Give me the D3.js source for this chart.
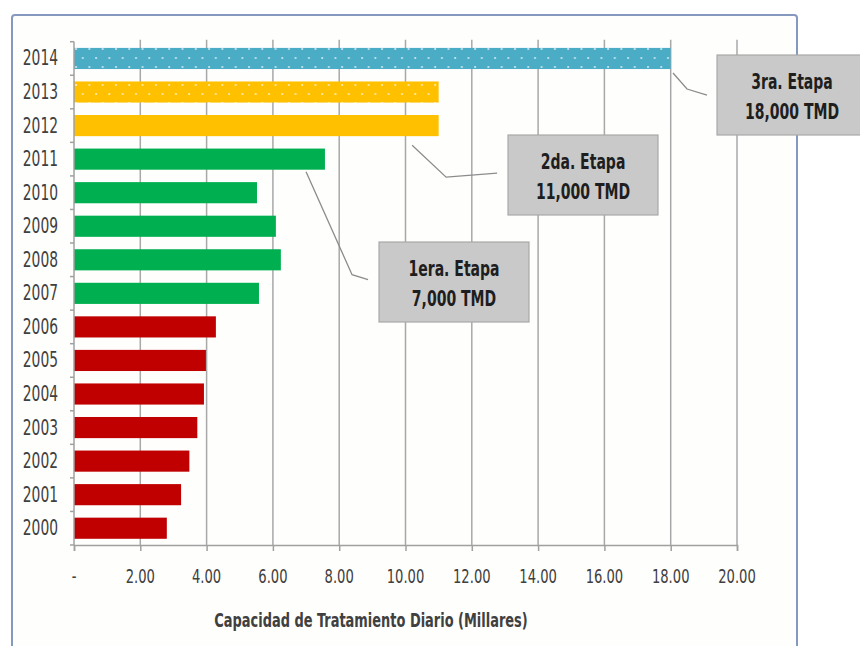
<!DOCTYPE html>
<html>
<head>
<meta charset="utf-8">
<script src="https://cdn.jsdelivr.net/npm/d3@7"></script>
<style>
  html, body { margin: 0; padding: 0; background: #ffffff; }
  svg { display: block; }
  text { font-family: "DejaVu Sans Condensed", "Liberation Sans Narrow", "Liberation Sans", sans-serif; }
</style>
</head>
<body>
<svg id="chart" width="860" height="646"></svg>
<script>
// Daily treatment capacity by year (thousands of tonnes per day)
const years = [2014, 2013, 2012, 2011, 2010, 2009, 2008, 2007, 2006, 2005, 2004, 2003, 2002, 2001, 2000];
const capacity = [18.0, 11.0, 11.0, 7.57, 5.52, 6.09, 6.24, 5.58, 4.28, 3.98, 3.92, 3.72, 3.48, 3.23, 2.80];
// Stage each year belongs to: 0 = before expansions, 1..3 = expansion stages
const stage = [3, 2, 2, 1, 1, 1, 1, 1, 0, 0, 0, 0, 0, 0, 0];
// Years drawn with the dotted (projected) fill
const projected = [2014, 2013];
const stageColors = ["#c00000", "#00b050", "#ffc000", "#4bacc6"];

const xTicks = [0, 2, 4, 6, 8, 10, 12, 14, 16, 18, 20];
const xTickLabels = ["-", "2.00", "4.00", "6.00", "8.00", "10.00", "12.00", "14.00", "16.00", "18.00", "20.00"];
const xTitle = "Capacidad de Tratamiento Diario (Millares)";

// Stage callouts: anchor year and capacity, two text lines
const calloutYears = [2011, 2012, 2014];
const calloutValues = [7.0, 10.2, 18.07];
const calloutLine1 = ["1era. Etapa", "2da. Etapa", "3ra. Etapa"];
const calloutLine2 = ["7,000 TMD", "11,000 TMD", "18,000 TMD"];

const svg = d3.select("#chart");
const STRETCH = 1.32; // tall, narrow lettering

// text with a vertical stretch about its baseline
function label(g, tx, ty, str, size, opts = {}) {
  return g.append("text")
    .attr("transform", `translate(${tx},${ty}) scale(1,${opts.k || STRETCH})`)
    .attr("text-anchor", opts.anchor || "middle")
    .attr("font-size", size)
    .attr("font-weight", opts.weight || "normal")
    .attr("fill", opts.fill || "#404040")
    .text(str);
}

// outer frame
svg.append("rect")
  .attr("x", 12).attr("y", 15).attr("width", 785).attr("height", 700)
  .attr("rx", 3)
  .attr("fill", "#fefefd").attr("stroke", "#8598bd").attr("stroke-width", 2);

const x = d3.scaleLinear().domain([0, 20]).range([74, 737]);
const y = d3.scaleBand().domain(years).range([41.7, 545]).paddingInner(0.37).paddingOuter(0.185);
const plotTop = 41.7, plotBottom = 545;

// dotted fill patterns for projected bars
const defs = svg.append("defs");
stageColors.forEach((c, i) => {
  const p = defs.append("pattern")
    .attr("id", "dots" + i)
    .attr("patternUnits", "userSpaceOnUse")
    .attr("width", 13.3).attr("height", 18);
  p.append("rect").attr("width", 13.3).attr("height", 18).attr("fill", c);
  p.append("circle").attr("cx", 3).attr("cy", 4).attr("r", 1.1).attr("fill", "#ffffff").attr("opacity", 0.7);
  p.append("circle").attr("cx", 9.6).attr("cy", 13).attr("r", 1.1).attr("fill", "#ffffff").attr("opacity", 0.7);
});

// vertical gridlines
svg.append("g").selectAll("line")
  .data(xTicks.filter(d => d > 0))
  .join("line")
  .attr("x1", d => x(d)).attr("x2", d => x(d))
  .attr("y1", plotTop - 2).attr("y2", plotBottom)
  .attr("stroke", "#a8a8a8").attr("stroke-width", 1.5);

// bars
svg.append("g").selectAll("rect")
  .data(years.map((yr, i) => ({ yr, v: capacity[i], s: stage[i] })))
  .join("rect")
  .attr("x", x(0))
  .attr("y", d => y(d.yr))
  .attr("width", d => x(d.v) - x(0))
  .attr("height", y.bandwidth())
  .attr("fill", d => projected.includes(d.yr) ? `url(#dots${d.s})` : stageColors[d.s]);

// x axis line and ticks
const xAxis = d3.axisBottom(x).tickValues(xTicks).tickFormat("").tickSize(6);
const gx = svg.append("g").attr("transform", `translate(0,${plotBottom})`).call(xAxis);
gx.select(".domain").attr("stroke", "#a0a0a0").attr("stroke-width", 1.5);
gx.selectAll(".tick line").attr("stroke", "#a0a0a0").attr("stroke-width", 1.5);
gx.selectAll(".tick text").remove();

// x tick labels
const gxl = svg.append("g");
xTicks.forEach((t, i) => label(gxl, x(t), 583, xTickLabels[i], 14.6));

// y axis
const gy = svg.append("g").attr("transform", `translate(${x(0)},0)`);
gy.append("line")
  .attr("x1", 0).attr("x2", 0).attr("y1", plotTop).attr("y2", plotBottom)
  .attr("stroke", "#a0a0a0").attr("stroke-width", 1.5);
const step = y.step();
gy.selectAll("line.tk")
  .data(d3.range(years.length + 1))
  .join("line").attr("class", "tk")
  .attr("x1", -4).attr("x2", 0)
  .attr("y1", i => plotTop + i * step).attr("y2", i => plotTop + i * step)
  .attr("stroke", "#a0a0a0").attr("stroke-width", 1.5);
const gyl = svg.append("g");
years.forEach(yr => label(gyl, 58, y(yr) + y.bandwidth() / 2 + 7, yr, 15.4, { anchor: "end" }));

// x axis title
label(svg, 371, 627, xTitle, 14.4, { weight: "bold" });

// callouts: leader line from bar end, then grey label box
const boxH = 80;
const boxLeft = [379, 508, 717];
const boxTop = [242, 135, 55];
const boxWidth = [150, 150, 150];
// leader elbow points relative to the anchor
const elbows = [[46, 103, 62, 108], [34, 32, 85, 28], [14, 16, 34, 22]];
const anchorGap = [2, 9, 4];

const callouts = svg.append("g");
calloutYears.forEach((yr, i) => {
  const ax = x(calloutValues[i]);
  const ay = y(yr) + y.bandwidth() + anchorGap[i];
  const e = elbows[i];
  callouts.append("path")
    .attr("d", d3.line()([[ax, ay], [ax + e[0], ay + e[1]], [ax + e[2], ay + e[3]]]))
    .attr("fill", "none").attr("stroke", "#8c8c8c").attr("stroke-width", 1.3);
  callouts.append("rect")
    .attr("x", boxLeft[i]).attr("y", boxTop[i])
    .attr("width", boxWidth[i]).attr("height", boxH)
    .attr("fill", "#c9c9c9").attr("stroke", "#a9a9a9").attr("stroke-width", 1.2);
  const cx = boxLeft[i] + boxWidth[i] / 2;
  label(callouts, cx, boxTop[i] + 34, calloutLine1[i], 15.6, { weight: "bold", fill: "#1e1e1e" });
  label(callouts, cx, boxTop[i] + 64, calloutLine2[i], 15.6, { weight: "bold", fill: "#1e1e1e" });
});
</script>
</body>
</html>
